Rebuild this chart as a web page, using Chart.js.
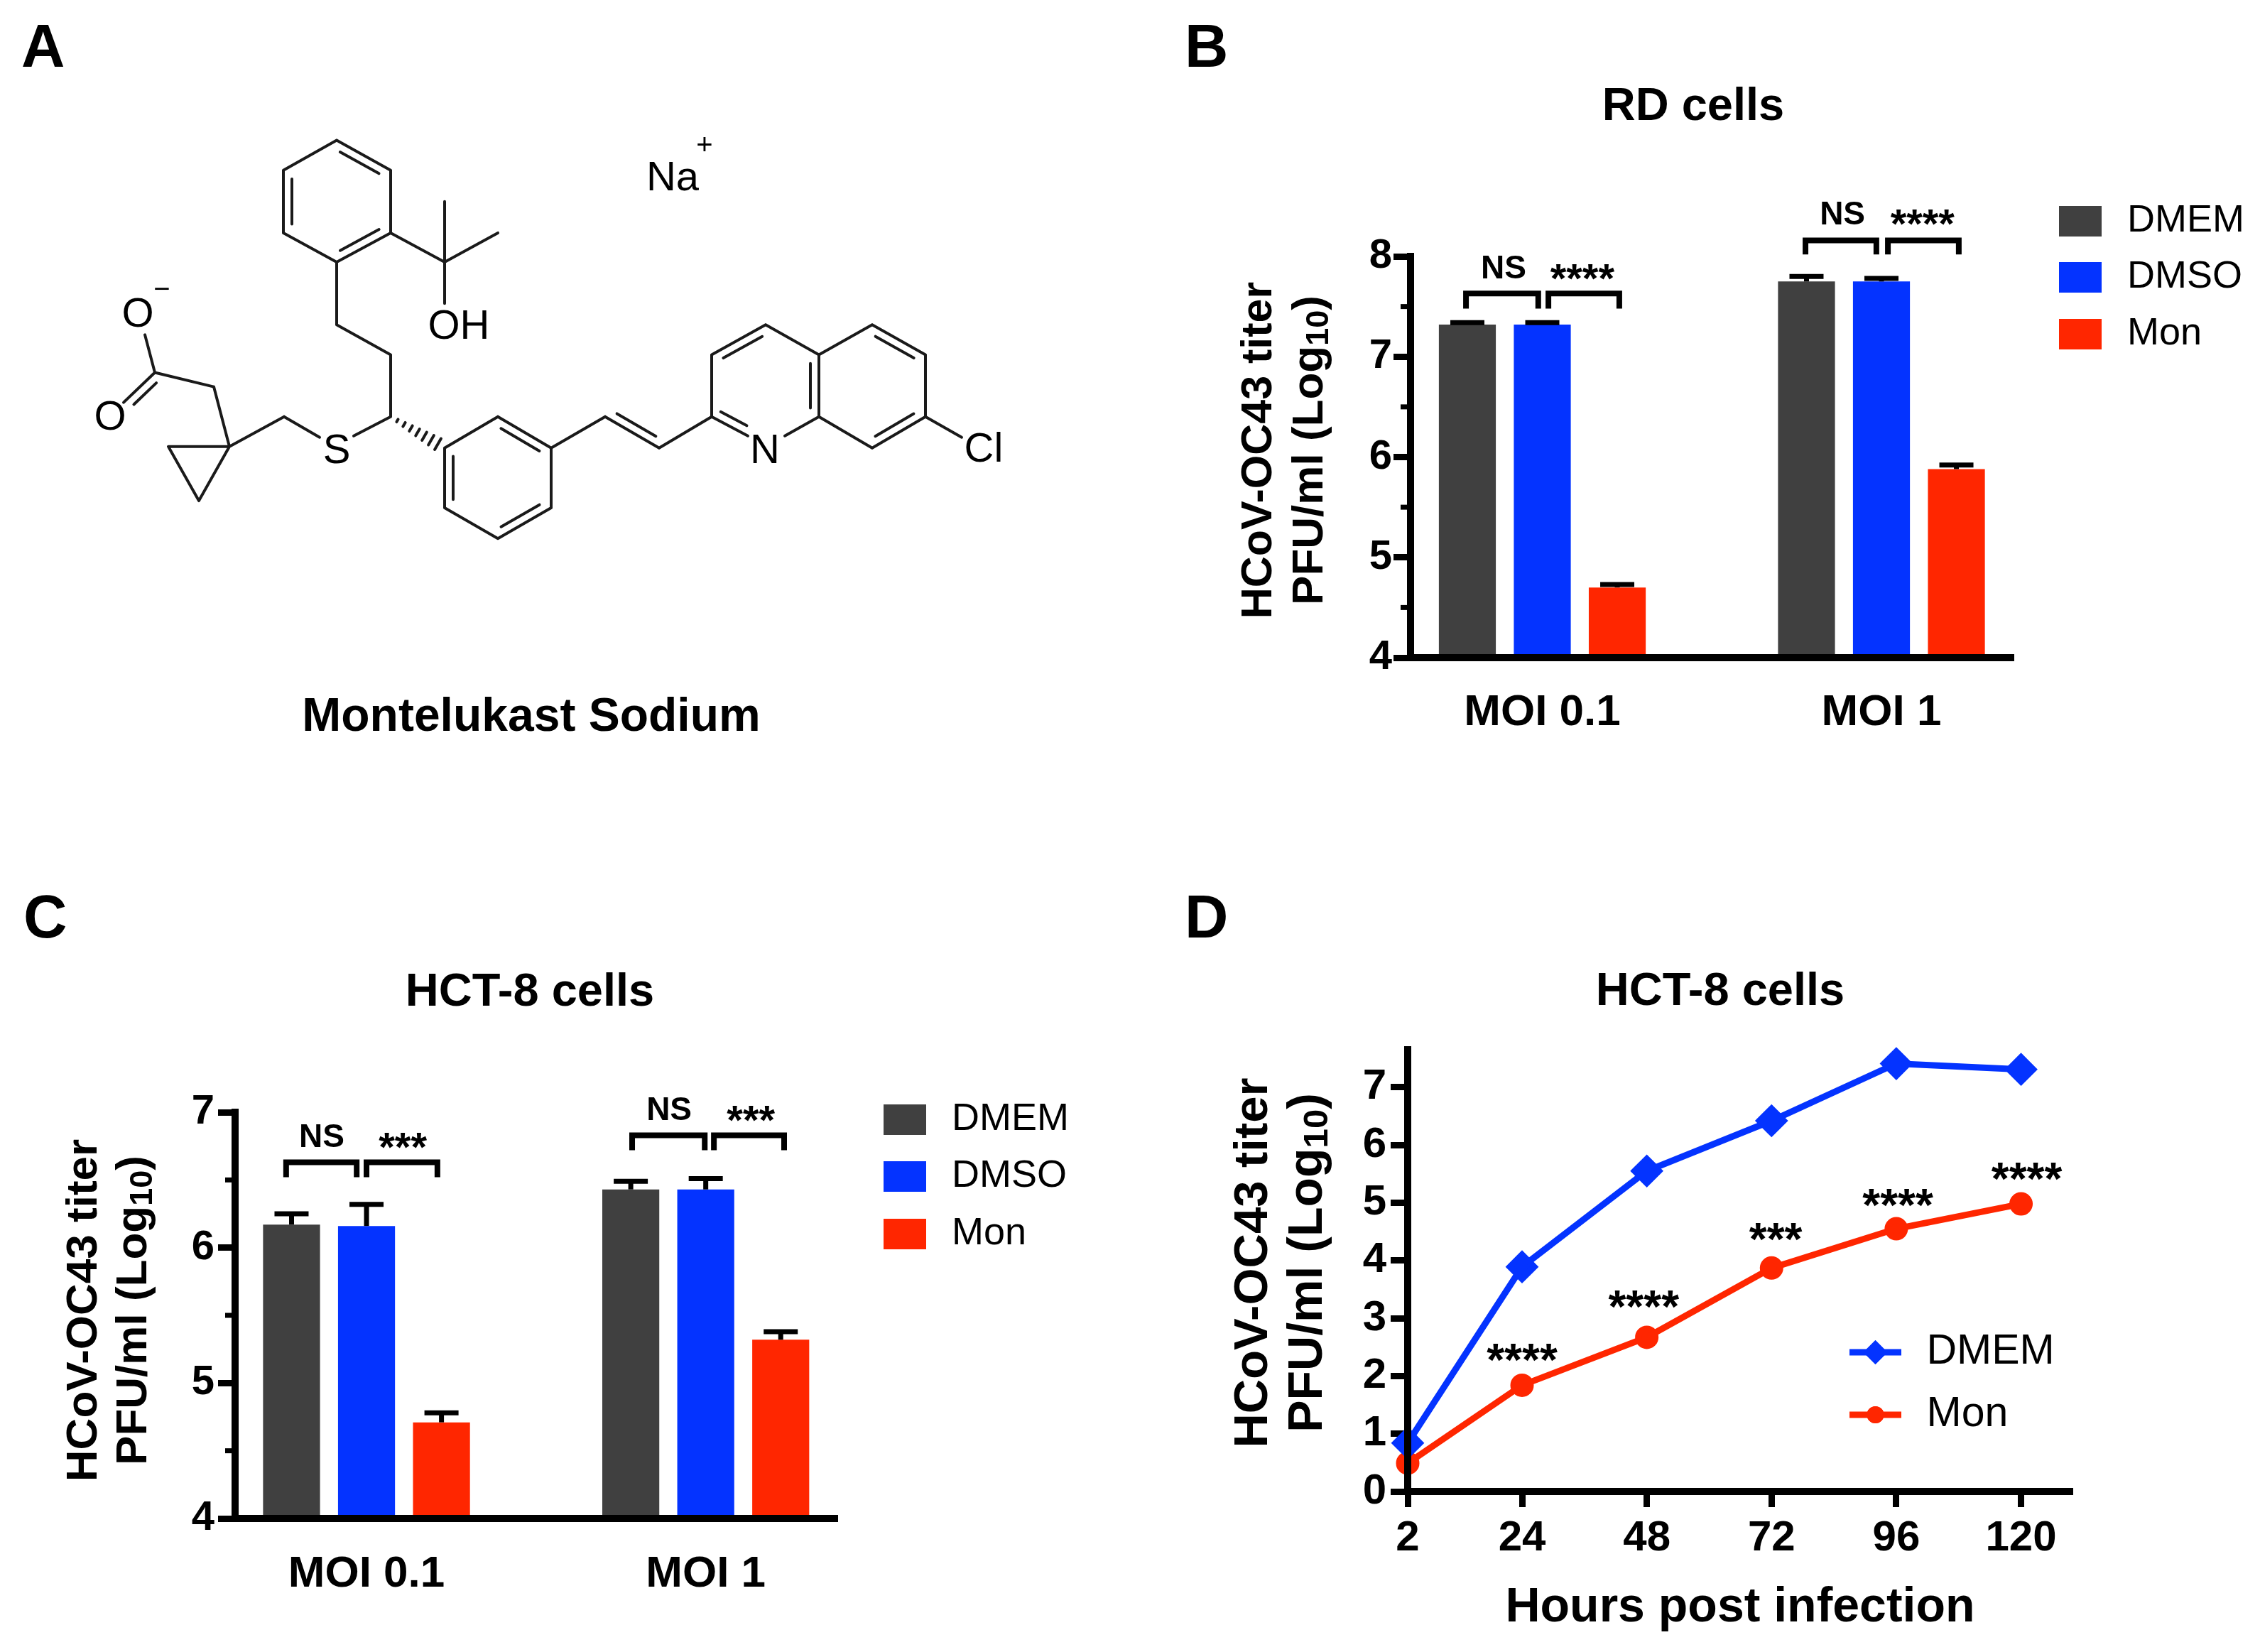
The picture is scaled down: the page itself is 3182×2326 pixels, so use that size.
<!DOCTYPE html>
<html>
<head>
<meta charset="utf-8">
<title>Montelukast HCoV-OC43</title>
<script src="https://cdn.jsdelivr.net/npm/chart.js@4"></script>
<style>
  body { margin: 0; background: #fff; }
  #page { position: relative; width: 3182px; height: 2326px; overflow: hidden; }
  canvas { position: absolute; }
</style>
</head>
<body>
<div id="page"></div>
<script>
// categories and series
const seriesNames = ['DMEM', 'DMSO', 'Mon'];
const moiLabels = ['MOI 0.1', 'MOI 1'];
const groupPos = [1, 2];

// panel B, RD cells
const rdDmem = [7.32, 7.75];
const rdDmso = [7.32, 7.75];
const rdMon = [4.70, 5.88];
const rdErrDmem = [0.02, 0.05];
const rdErrDmso = [0.02, 0.03];
const rdErrMon = [0.03, 0.04];
const rdBracketStart = [0.775, 1.018, 1.776, 2.019];
const rdBracketEnd = [0.988, 1.227, 1.985, 2.228];
const rdBracketTop = [7.63, 7.63, 8.16, 8.16];
const rdBracketLeg = [7.48, 7.48, 8.02, 8.02];
const rdNoteText = ['NS', '****', 'NS', '****'];
const rdNoteX = [0.886, 1.118, 1.885, 2.121];
const rdNoteY = [7.87, 7.84, 8.41, 8.39];

// panel C, HCT-8 cells
const hctDmem = [6.17, 6.43];
const hctDmso = [6.16, 6.43];
const hctMon = [4.71, 5.32];
const hctErrDmem = [0.08, 0.06];
const hctErrDmso = [0.16, 0.08];
const hctErrMon = [0.07, 0.06];
const hctBracketStart = [0.763, 1.0, 1.783, 2.024];
const hctBracketEnd = [0.971, 1.209, 1.997, 2.231];
const hctBracketTop = [6.63, 6.63, 6.83, 6.83];
const hctBracketLeg = [6.52, 6.52, 6.72, 6.72];
const hctNoteText = ['NS', '***', 'NS', '***'];
const hctNoteX = [0.868, 1.107, 1.892, 2.133];
const hctNoteY = [6.81, 6.79, 7.01, 6.99];

// panel D, time course
const hours = [2, 24, 48, 72, 96, 120];
const courseDmem = [0.84, 3.89, 5.55, 6.42, 7.41, 7.31];
const courseMon = [0.49, 1.84, 2.67, 3.87, 4.55, 4.98];
const courseNoteText = ['****', '****', '***', '****', '****'];
const courseNoteX = [24, 47.4, 72.8, 96.3, 121.1];
const courseNoteY = [2.39, 3.32, 4.49, 5.08, 5.53];

// panel A, the molecule (structure units, same size as page pixels)
const atomX = [474, 550, 550, 474, 399, 399, 626, 626, 701, 626, 474, 550, 550, 498, 450, 400, 323, 237, 280, 301, 218, 204,
  174, 626, 701, 776, 776, 701, 626, 852, 928, 1002, 1002, 1078, 1153, 1153, 1053, 1105, 1228, 1303, 1303, 1228, 1354];
const atomY = [197, 239, 327, 368, 327, 239, 368, 283, 327, 426, 456, 498, 585, 612, 614, 585, 627, 627, 703, 543, 523, 470,
  565, 629, 585, 629, 713, 756, 713, 585, 629, 585, 498, 456, 498, 585, 612, 612, 456, 498, 585, 629, 614];
const singleBonds = [[0, 1], [1, 2], [2, 3], [3, 4], [4, 5], [5, 0], [2, 6], [6, 7], [6, 8], [6, 9], [3, 10], [10, 11], [11, 12],
  [12, 13], [14, 15], [15, 16], [16, 17], [17, 18], [18, 16], [16, 19], [19, 20], [20, 21], [20, 22],
  [23, 24], [24, 25], [25, 26], [26, 27], [27, 28], [28, 23], [25, 29], [29, 30], [30, 31],
  [31, 32], [32, 33], [33, 34], [34, 35], [31, 36], [35, 37], [34, 38], [38, 39], [39, 40], [40, 41], [41, 35], [40, 42]];
// second line of a double bond: atom, atom, atom on the side it goes
const doubleBonds = [[0, 1, 3], [2, 3, 0], [4, 5, 1], [24, 25, 27], [26, 27, 24], [28, 23, 25], [29, 30, 31], [20, 22, 19],
  [32, 33, 35], [34, 35, 32], [38, 39, 41], [40, 41, 38], [31, 36, 34]];
const hashBond = [12, 23];
const atomLabels = ['O', 'O', 'S', 'OH', 'N', 'Cl', 'Na', '+', '\u2212'];
const atomLabelX = [194, 155, 474, 646, 1077, 1385, 947, 992, 228];
const atomLabelY = [443, 587, 634, 460, 634, 632, 251, 205, 408];

const FONT = '"Liberation Sans"';
const DARK = '#404040', BLUE = '#0433ff', RED = '#ff2600';
Chart.defaults.font.family = FONT;
Chart.defaults.color = '#000';
Chart.defaults.animation = false;

const addCanvas = (left, top, w, h) => {
  const c = document.createElement('canvas');
  c.width = w; c.height = h;
  c.style.left = left + 'px'; c.style.top = top + 'px';
  c.style.width = w + 'px'; c.style.height = h + 'px';
  document.getElementById('page').appendChild(c);
  return c;
};

// legend symbol, left aligned in its slot so the gap to the text can be set
const barSwatch = (color, slot, w, h) => {
  const c = document.createElement('canvas');
  c.width = slot; c.height = h;
  const g = c.getContext('2d');
  g.fillStyle = color;
  g.fillRect(0, 0, w, h);
  return c;
};
const lineSwatch = (color, shape, slot, w) => {
  const c = document.createElement('canvas');
  c.width = slot; c.height = 36;
  const g = c.getContext('2d');
  g.strokeStyle = g.fillStyle = color;
  g.lineWidth = 9;
  g.beginPath(); g.moveTo(0, 18); g.lineTo(w, 18); g.stroke();
  Chart.helpers.drawPoint(g, {pointStyle: shape, radius: shape === 'circle' ? 12 : 17, borderWidth: 0}, w / 2, 18);
  g.fill();
  return c;
};

// everything the library does not draw by itself
const panelPlugin = (cfg) => ({
  id: 'panelExtras',
  afterLayout(chart) {
    if (cfg.titleX !== undefined && chart.titleBlock) {
      const t = chart.titleBlock;
      t.left = cfg.titleX - cfg.left - t.width / 2;
      t.right = t.left + t.width;
    }
    if (cfg.legendX !== undefined) {
      const l = chart.legend, pad = l.options.labels.padding;
      l.left = cfg.legendX - cfg.left - pad;
      l.right = l.left + l.width;
      l.top = cfg.legendY - cfg.top - pad - l.options.labels.font.size / 2;
      l.bottom = l.top + l.height + 20;
    }
  },
  afterDraw(chart) {
    const g = chart.ctx, xs = chart.scales.x, ys = chart.scales.y;
    g.save();
    g.fillStyle = g.strokeStyle = '#000';

    // minor ticks
    if (cfg.minorTicks) {
      g.lineWidth = 7;
      ys.ticks.forEach((t) => {
        if (Number.isInteger(t.value)) return;
        const y = ys.getPixelForValue(t.value);
        g.beginPath(); g.moveTo(chart.chartArea.left - 14, y); g.lineTo(chart.chartArea.left, y); g.stroke();
      });
    }

    // error bars, upper side only
    chart.data.datasets.forEach((ds, di) => {
      if (!ds.errors) return;
      chart.getDatasetMeta(di).data.forEach((el, i) => {
        const top = ys.getPixelForValue(ds.data[i].y + ds.errors[i]);
        g.lineWidth = 7;
        g.beginPath(); g.moveTo(el.x, el.y); g.lineTo(el.x, top); g.stroke();
        g.beginPath(); g.moveTo(el.x - 24, top); g.lineTo(el.x + 24, top); g.stroke();
      });
    });

    // significance brackets
    if (cfg.brackets) {
      const b = cfg.brackets;
      g.lineWidth = 8;
      g.lineJoin = 'miter';
      b.start.forEach((x0, i) => {
        const a = xs.getPixelForValue(x0), c = xs.getPixelForValue(b.end[i]);
        const t = ys.getPixelForValue(b.top[i]), l = ys.getPixelForValue(b.leg[i]);
        g.beginPath(); g.moveTo(a, l); g.lineTo(a, t); g.lineTo(c, t); g.lineTo(c, l); g.stroke();
      });
    }

    // NS and stars
    g.textAlign = 'center';
    g.textBaseline = 'middle';
    if (cfg.notes) {
      cfg.notes.text.forEach((s, i) => {
        const isStar = s[0] === '*';
        const size = isStar ? cfg.notes.starSize : 46;
        g.font = 'bold ' + size + 'px ' + FONT;
        g.fillText(s, xs.getPixelForValue(cfg.notes.x[i]), ys.getPixelForValue(cfg.notes.y[i]) + (isStar ? size * 0.22 : 0));
      });
    }

    // y axis title, two lines with a subscript
    if (cfg.yTitle) {
      const yt = cfg.yTitle, f = 'bold ' + yt.size2 + 'px ' + FONT, sub = 'bold ' + Math.round(yt.size2 * 0.72) + 'px ' + FONT;
      g.save();
      g.translate(yt.x1 - cfg.left, yt.yc - cfg.top);
      g.rotate(-Math.PI / 2);
      g.font = 'bold ' + yt.size + 'px ' + FONT;
      g.fillText('HCoV-OC43 titer', 0, 0);
      g.restore();
      g.save();
      g.translate(yt.x2 - cfg.left, yt.yc - cfg.top);
      g.rotate(-Math.PI / 2);
      g.textAlign = 'left';
      g.font = f;
      const w1 = g.measureText('PFU/ml (Log').width, w3 = g.measureText(')').width;
      g.font = sub;
      const w2 = g.measureText('10').width;
      let x = -(w1 + w2 + w3) / 2;
      g.font = f;
      g.fillText('PFU/ml (Log', x, 0);
      x += w1;
      g.font = sub;
      g.fillText('10', x, yt.size2 * 0.2);
      x += w2;
      g.font = f;
      g.fillText(')', x, 0);
      g.restore();
    }

    // atom labels of the molecule
    if (cfg.atoms) {
      atomLabels.forEach((s, i) => {
        g.font = (s === '+' || s === '\u2212' ? 40 : 58) + 'px ' + FONT;
        g.fillText(s, xs.getPixelForValue(atomLabelX[i]), ys.getPixelForValue(atomLabelY[i]));
      });
    }

    // panel letter
    g.textAlign = 'left';
    g.font = 'bold 85px ' + FONT;
    g.fillText(cfg.letter, cfg.letterX - cfg.left, cfg.letterY - cfg.top);
    g.restore();
  }
});

// common axis pieces
const yAxis = (min, max, step, size, pad, areaLeft, isMinor) => ({
  min, max,
  afterFit: (s) => { s.width = areaLeft; },
  ticks: {
    stepSize: step, includeBounds: false, padding: pad, autoSkip: false,
    font: {size, weight: 'bold'},
    callback: (v) => (Number.isInteger(v) ? String(v) : '')
  },
  grid: {
    drawOnChartArea: false, tickLength: 24, tickWidth: 9,
    tickColor: (c) => (isMinor && !Number.isInteger(c.tick.value) ? 'transparent' : '#000')
  },
  border: {color: '#000', width: 10, z: 1}
});

const barPanel = (cfg, vals, errs) => {
  const canvas = addCanvas(cfg.left, cfg.top, cfg.w, cfg.h);
  const colors = [DARK, BLUE, RED];
  const a = cfg.area;
  return new Chart(canvas, {
    type: 'bar',
    data: {
      datasets: seriesNames.map((name, s) => ({
        label: name,
        data: groupPos.map((x, i) => ({x, y: vals[s][i]})),
        errors: errs[s],
        backgroundColor: colors[s],
        barPercentage: 0.76,
        categoryPercentage: 0.663
      }))
    },
    options: {
      responsive: false,
      events: [],
      layout: {padding: {right: cfg.left + cfg.w - a.right}},
      scales: {
        x: {
          type: 'linear', offset: false, min: cfg.xMin, max: cfg.xMax,
          afterFit: (s) => { s.height = cfg.top + cfg.h - a.bottom; },
          afterBuildTicks: (s) => { s.ticks = groupPos.map((v) => ({value: v})); },
          ticks: {
            padding: cfg.xPad, maxRotation: 0, autoSkip: false,
            font: {size: 62, weight: 'bold'},
            callback: (v) => moiLabels[groupPos.indexOf(v)]
          },
          grid: {display: false, drawTicks: false, offset: false},
          border: {color: '#000', width: 10, z: 1}
        },
        y: yAxis(cfg.yMin, cfg.yMax, 0.5, 58, cfg.yPad, a.left - cfg.left, true)
      },
      plugins: {
        title: {
          display: true, text: cfg.title,
          font: {size: 65, weight: 'bold'},
          padding: {top: cfg.titleY - cfg.top - 39, bottom: a.top - cfg.titleY - 39}
        },
        legend: {
          position: 'chartArea', align: 'start',
          labels: {
            font: {size: 54}, padding: cfg.legendGap - 54,
            usePointStyle: true, pointStyleWidth: 69,
            generateLabels: () => seriesNames.map((name, s) => ({
              text: name, datasetIndex: s, lineWidth: 0,
              pointStyle: barSwatch(colors[s], 69, 60, 43)
            }))
          }
        },
        tooltip: {enabled: false}
      }
    },
    plugins: [panelPlugin(cfg)]
  });
};

// panel A, molecule drawn as one line dataset with gaps
const moleculePoints = () => {
  const pts = [];
  const seg = (x0, y0, x1, y1) => { pts.push({x: x0, y: y0}, {x: x1, y: y1}, {x: NaN, y: NaN}); };
  singleBonds.forEach(([a, b]) => seg(atomX[a], atomY[a], atomX[b], atomY[b]));
  doubleBonds.forEach(([a, b, r]) => {
    const dx = atomX[b] - atomX[a], dy = atomY[b] - atomY[a], len = Math.hypot(dx, dy);
    let nx = -dy / len, ny = dx / len;
    if (nx * (atomX[r] - atomX[a]) + ny * (atomY[r] - atomY[a]) < 0) { nx = -nx; ny = -ny; }
    seg(atomX[a] + dx * 0.14 + nx * 12, atomY[a] + dy * 0.14 + ny * 12, atomX[b] - dx * 0.14 + nx * 12, atomY[b] - dy * 0.14 + ny * 12);
  });
  const [h0, h1] = hashBond;
  const hx = atomX[h1] - atomX[h0], hy = atomY[h1] - atomY[h0], hl = Math.hypot(hx, hy);
  for (let k = 1; k <= 7; k++) {
    const t = k / 8, half = 1 + t * 9;
    const cx = atomX[h0] + hx * t, cy = atomY[h0] + hy * t;
    seg(cx - hy / hl * half, cy + hx / hl * half, cx + hy / hl * half, cy - hx / hl * half);
  }
  return pts;
};

const cfgA = {left: 0, top: 0, w: 1496, h: 1100, atoms: true, letter: 'A', letterX: 30, letterY: 71};
new Chart(addCanvas(cfgA.left, cfgA.top, cfgA.w, cfgA.h), {
  type: 'scatter',
  data: {
    datasets: [{
      data: moleculePoints(), showLine: true, spanGaps: false, pointRadius: 0,
      borderColor: '#1a1a1a', borderWidth: 4, borderCapStyle: 'round'
    }]
  },
  options: {
    responsive: false,
    events: [],
    scales: {
      x: {display: false, type: 'linear', min: 0, max: 1496},
      y: {display: false, type: 'linear', min: 0, max: 968, reverse: true}
    },
    plugins: {
      legend: {display: false},
      tooltip: {enabled: false},
      title: {
        display: true, position: 'bottom', text: 'Montelukast Sodium',
        font: {size: 66, weight: 'bold'}, padding: {top: 0, bottom: 50}
      }
    }
  },
  plugins: [panelPlugin(cfgA)]
});

// panel B
barPanel({
  left: 1600, top: 0, w: 1582, h: 1100,
  area: {left: 1986, right: 2835, top: 361, bottom: 926},
  xMin: 0.6115, xMax: 2.3895, yMin: 4, yMax: 8, xPad: 41, yPad: 2,
  title: 'RD cells', titleX: 2384, titleY: 151,
  legendX: 2899, legendY: 311, legendGap: 79.5,
  minorTicks: true,
  brackets: {start: rdBracketStart, end: rdBracketEnd, top: rdBracketTop, leg: rdBracketLeg},
  notes: {text: rdNoteText, x: rdNoteX, y: rdNoteY, starSize: 58},
  yTitle: {x1: 1773, x2: 1845, yc: 634, size: 61, size2: 62},
  letter: 'B', letterX: 1668, letterY: 71
}, [rdDmem, rdDmso, rdMon], [rdErrDmem, rdErrDmso, rdErrMon]);

// panel C
barPanel({
  left: 0, top: 1200, w: 1560, h: 1126,
  area: {left: 331, right: 1179, top: 1566, bottom: 2138},
  xMin: 0.6126, xMax: 2.388, yMin: 4, yMax: 7, xPad: 42, yPad: 5,
  title: 'HCT-8 cells', titleX: 746, titleY: 1398,
  legendX: 1244, legendY: 1576, legendGap: 80.5,
  minorTicks: true,
  brackets: {start: hctBracketStart, end: hctBracketEnd, top: hctBracketTop, leg: hctBracketLeg},
  notes: {text: hctNoteText, x: hctNoteX, y: hctNoteY, starSize: 58},
  yTitle: {x1: 119, x2: 189, yc: 1845, size: 62, size2: 62},
  letter: 'C', letterX: 33, letterY: 1297
}, [hctDmem, hctDmso, hctMon], [hctErrDmem, hctErrDmso, hctErrMon]);

// panel D
const cfgD = {
  left: 1600, top: 1200, w: 1582, h: 1126,
  titleX: 2422, legendX: 2604, legendY: 1904,
  notes: {text: courseNoteText, x: courseNoteX, y: courseNoteY, starSize: 64},
  yTitle: {x1: 1766, x2: 1842, yc: 1778, size: 67, size2: 68},
  letter: 'D', letterX: 1668, letterY: 1297
};
const areaD = {left: 1982, right: 2918, top: 1478, bottom: 2100};
new Chart(addCanvas(cfgD.left, cfgD.top, cfgD.w, cfgD.h), {
  type: 'line',
  data: {
    datasets: [
      {label: 'DMEM', data: hours.map((x, i) => ({x, y: courseDmem[i]})), borderColor: BLUE, backgroundColor: BLUE,
        borderWidth: 9, pointStyle: 'rectRot', pointRadius: 17, clip: false, tension: 0},
      {label: 'Mon', data: hours.map((x, i) => ({x, y: courseMon[i]})), borderColor: RED, backgroundColor: RED,
        borderWidth: 9, pointStyle: 'circle', pointRadius: 12, clip: false, tension: 0}
    ]
  },
  options: {
    responsive: false,
    events: [],
    layout: {padding: {right: cfgD.left + cfgD.w - areaD.right}},
    scales: {
      x: {
        type: 'linear', min: 2, max: 129.9,
        afterFit: (s) => { s.height = cfgD.top + cfgD.h - areaD.bottom; },
        afterBuildTicks: (s) => { s.ticks = hours.map((v) => ({value: v})); },
        ticks: {padding: 8, maxRotation: 0, autoSkip: false, font: {size: 60, weight: 'bold'}, callback: (v) => String(v)},
        grid: {drawOnChartArea: false, tickLength: 22, tickWidth: 9, tickColor: '#000'},
        border: {color: '#000', width: 10, z: 1},
        title: {display: false}
      },
      y: yAxis(0, 7.65, 1, 60, 6, areaD.left - cfgD.left, false)
    },
    plugins: {
      title: {
        display: true, text: 'HCT-8 cells',
        font: {size: 65, weight: 'bold'},
        padding: {top: 1397 - cfgD.top - 39, bottom: areaD.top - 1397 - 39}
      },
      legend: {
        position: 'chartArea', align: 'start',
        labels: {
          font: {size: 59}, padding: 29,
          usePointStyle: true, pointStyleWidth: 79,
          generateLabels: () => [
            {text: 'DMEM', datasetIndex: 0, lineWidth: 0, pointStyle: lineSwatch(BLUE, 'rectRot', 79, 73)},
            {text: 'Mon', datasetIndex: 1, lineWidth: 0, pointStyle: lineSwatch(RED, 'circle', 79, 73)}
          ]
        }
      },
      tooltip: {enabled: false}
    }
  },
  plugins: [panelPlugin(cfgD), {
    // x axis title sits lower than the tick labels
    id: 'hoursTitle',
    afterDraw(chart) {
      const g = chart.ctx;
      g.save();
      g.font = 'bold 68px ' + FONT;
      g.textAlign = 'center';
      g.textBaseline = 'middle';
      g.fillStyle = '#000';
      g.fillText('Hours post infection', 2450 - cfgD.left, 2264 - cfgD.top);
      g.restore();
    }
  }]
});
</script>
</body>
</html>
